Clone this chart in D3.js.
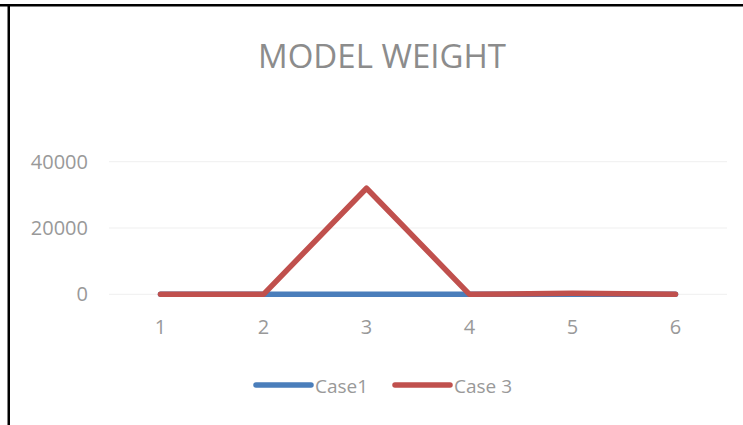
<!DOCTYPE html>
<html>
<head>
<meta charset="utf-8">
<script src="https://cdn.jsdelivr.net/npm/d3@7"></script>
<style>
  body { margin: 0; background: #fff; }
  text { font-family: "Open Sans", Lato, sans-serif; }
</style>
</head>
<body>
<div id="chart"></div>
<script>
const WIDTH = 743;
const HEIGHT = 425;
const MARGIN = { left: 109, right: 16, top: 161.7, bottom: 130.7 };

// data
const categories = ["1", "2", "3", "4", "5", "6"];
const case1 = [0, 0, 0, 0, 0, 0];
const case3 = [0, 0, 32000, 0, 300, 0];
const yTicks = [0, 20000, 40000];
const seriesNames = ["Case1", "Case 3"];
const seriesColors = ["#4a7ebb", "#c0504d"];

let svg = d3.select("#chart").append("svg")
  .attr("width", WIDTH).attr("height", HEIGHT);

// frame lines (top and left)
svg.append("rect").attr("x", 0).attr("y", 4).attr("width", WIDTH).attr("height", 2.5).attr("fill", "#000");
svg.append("rect").attr("x", 7.5).attr("y", 4).attr("width", 2.5).attr("height", HEIGHT).attr("fill", "#000");

let xScale = d3.scaleBand()
  .domain(categories)
  .range([MARGIN.left, WIDTH - MARGIN.right]);

let yScale = d3.scaleLinear()
  .domain([0, 40000])
  .range([HEIGHT - MARGIN.bottom, MARGIN.top]);

// title
svg.append("text")
  .attr("x", 382)
  .attr("y", 68)
  .attr("text-anchor", "middle")
  .attr("fill", "#8c8c8c")
  .style("font-size", "33px")
  .text("MODEL WEIGHT");

// gridlines
svg.append("g").selectAll("line")
  .data(yTicks)
  .join("line")
  .attr("x1", MARGIN.left)
  .attr("x2", WIDTH - MARGIN.right)
  .attr("y1", d => yScale(d))
  .attr("y2", d => yScale(d))
  .attr("stroke", "#efefef")
  .attr("stroke-width", 1);

// y axis
let yAxis = d3.axisLeft(yScale).tickValues(yTicks).tickFormat(d3.format("d")).tickSize(0).tickPadding(0);
svg.append("g")
  .attr("transform", `translate(88, 0)`)
  .call(yAxis)
  .call(g => g.select(".domain").remove())
  .selectAll("text")
  .attr("fill", "#999")
  .style("font-size", "20px");

// x axis
let xAxis = d3.axisBottom(xScale).tickSize(0).tickPadding(0);
svg.append("g")
  .attr("transform", `translate(0, ${HEIGHT - MARGIN.bottom + 25})`)
  .call(xAxis)
  .call(g => g.select(".domain").remove())
  .selectAll("text")
  .attr("fill", "#999")
  .style("font-size", "20px");

// lines
let line = d3.line()
  .x((d, i) => xScale(categories[i]) + xScale.bandwidth() / 2)
  .y(d => yScale(d));

[case1, case3].forEach((vals, k) => {
  svg.append("path")
    .datum(vals)
    .attr("fill", "none")
    .attr("stroke", seriesColors[k])
    .attr("stroke-width", 5.5)
    .attr("stroke-linejoin", "round")
    .attr("stroke-linecap", "round")
    .attr("d", line);
});

// legend
let legendX = [256, 395];
let legend = svg.append("g");
seriesNames.forEach((name, k) => {
  legend.append("line")
    .attr("x1", legendX[k])
    .attr("x2", legendX[k] + 55)
    .attr("y1", 385)
    .attr("y2", 385)
    .attr("stroke", seriesColors[k])
    .attr("stroke-width", 5.5)
    .attr("stroke-linecap", "round");
  legend.append("text")
    .attr("x", legendX[k] + 59)
    .attr("y", 393)
    .attr("fill", "#999")
    .style("font-size", "19px")
    .text(name);
});
</script>
</body>
</html>
